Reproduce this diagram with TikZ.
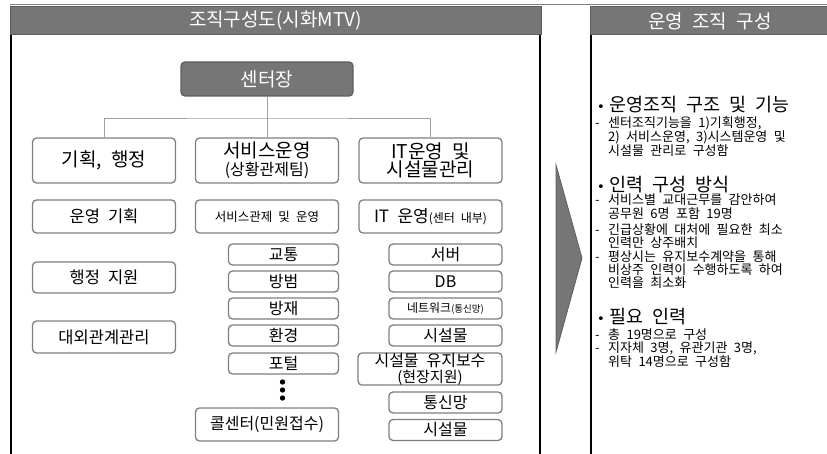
\documentclass[tikz,border=0pt]{standalone}
\usepackage{fontspec}
\setmainfont{Noto Sans CJK KR}[WordSpace=2.2]
\newfontfamily\symfont{DejaVu Sans}
\usepackage{xcolor}
\usetikzlibrary{positioning}
\definecolor{Ink}{HTML}{000000}
\definecolor{HeadFill}{HTML}{767676}
\definecolor{HeadLine}{HTML}{5E5E5E}
\definecolor{BoxLine}{HTML}{7F7F7F}
\definecolor{Link}{HTML}{A0A0A0}
\definecolor{Rule}{HTML}{808080}
\newcommand\fs[2]{\fontsize{#1}{#2}\selectfont}
\newcommand\hy{\makebox[13pt][l]{-}}
\newcommand\ind{\hspace*{13pt}}
\newcommand\bul{\makebox[12pt][l]{\symfont\fs{13}{13}•}}

\begin{document}
\begin{tikzpicture}[
  x=1pt, y=-1pt,
  panelhead/.style={draw=HeadLine, line width=1pt, fill=HeadFill, text=white, inner sep=0pt, minimum height=28pt, font=\fs{19}{22}},
  box/.style={rounded corners=4pt, draw=BoxLine, line width=1.3pt, fill=white, align=center, inner sep=0pt},
  chief/.style={box, fill=HeadFill, draw=HeadLine, text=white, minimum width=172pt, minimum height=34pt, font=\fs{19}{22}},
  unit/.style={box, minimum width=143pt, minimum height=45pt, font=\fs{19}{18}},
  task/.style={box, minimum width=143pt, minimum height=33pt, font=\fs{16.5}{16}},
  item/.style={box, minimum width=110pt, minimum height=21pt, font=\fs{16}{16}},
  link/.style={draw=Link, line width=0.8pt},
  frame/.style={draw=Ink, line width=2pt},
  headline/.style={anchor=west, inner sep=0pt, font=\fs{18.5}{20}},
  subtext/.style={anchor=north west, inner sep=0pt, align=left, font=\fs{13}{13.2}}
]
\useasboundingbox (0,0) rectangle (827,454);
\draw[Rule, line width=1.5pt] (10,4.5) -- (827,4.5);

\node[panelhead, minimum width=531pt] (lefthead) at (275.5,21) {조직구성도(시화MTV)};
\node[panelhead, minimum width=240pt] (righthead) at (710,21) {운영 조직 구성};
\draw[frame] ([xshift=1.5pt]lefthead.south west) -- ++(0,420);
\draw[frame] ([xshift=-1.5pt]lefthead.south east) -- ++(0,420);
\draw[frame] ([xshift=1pt]righthead.south west) -- ++(0,420);

\filldraw[fill=HeadFill, draw=HeadLine, line width=0.8pt] (556,165) -- (582,258) -- (556,352) -- cycle;

\node[chief] (chief) at (267,79) {센터장};
\node[unit] (plan) at (104,160.5) {기획, 행정};
\node[unit] (svc) at (267,160.5) {서비스운영\\{\fs{16}{18}(상황관제팀)}};
\node[unit] (it) at (430.5,160.5) {IT운영 및\\시설물관리};

\coordinate (bus) at (267,118);
\draw[link] (chief) -- (svc);
\draw[link] (plan.north) |- (bus) -| (it.north);

\node[task] (planwork) at (104,216.5) {운영 기획};
\node[task, font=\fs{12.5}{14}] (svcwork) at (267,216.5) {서비스관제 및 운영};
\node[task, font=\fs{17}{16}] (itwork) at (430.5,216.5) {IT 운영{\fs{12}{14}(센터 내부)}};
\node[task, minimum height=31pt] (adminwork) at (104,277.5) {행정 지원};
\node[task, minimum height=32pt] (extwork) at (104,337) {대외관계관리};

\node[item] (traffic) at (283.5,254.5) {교통};
\node[item] (crime) at (283.5,281.5) {방범};
\node[item] (disaster) at (283.5,308.5) {방재};
\node[item] (env) at (283.5,335.5) {환경};
\node[item] (portal) at (283.5,363.5) {포털};
\fill (282.5,382) circle (2.7pt);
\fill (282.5,390) circle (2.7pt);
\fill (282.5,398) circle (2.7pt);
\node[task, font=\fs{16}{16}] (callctr) at (267,424.5) {콜센터(민원접수)};

\node[item, minimum width=113pt] (server) at (445.5,254.5) {서버};
\node[item, minimum width=113pt] (db) at (445.5,281.5) {DB};
\node[item, minimum width=113pt, font=\fs{12}{14}] (network) at (445.5,308.5) {네트워크{\fs{9.5}{12}(통신망)}};
\node[item, minimum width=113pt] (facility) at (445.5,335.5) {시설물};
\node[task, minimum width=144pt, minimum height=32pt, font=\fs{16}{16}] (upkeep) at (430,369) {시설물 유지보수\\{\fs{15}{16}(현장지원)}};
\node[item, minimum width=113pt] (line) at (445.5,402.5) {통신망};
\node[item, minimum width=113pt] (facility2) at (445.5,430) {시설물};

\node[headline] (role) at (597,105) {\bul 운영조직 구조 및 기능};
\node[subtext] (rolea) at (595,116) {\hy 센터조직기능을 1)기획행정,\\\ind 2) 서비스운영, 3)시스템운영 및\\\ind 시설물 관리로 구성함};
\node[headline] (staff) at (597,185) {\bul 인력 구성 방식};
\node[subtext] (staffa) at (595,194) {\hy 서비스별 교대근무를 감안하여\\\ind 공무원 6명 포함 19명};
\node[subtext] (staffb) at (595,223.5) {\hy 긴급상황에 대처에 필요한 최소\\\ind 인력만 상주배치};
\node[subtext] (staffc) at (595,250.5) {\hy 평상시는 유지보수계약을 통해\\\ind 비상주 인력이 수행하도록 하여\\\ind 인력을 최소화};
\node[headline] (need) at (597,317) {\bul 필요 인력};
\node[subtext] (needa) at (595,328.5) {\hy 총 19명으로 구성};
\node[subtext] (needb) at (595,341.5) {\hy 지자체 3명, 유관기관 3명,\\\ind 위탁 14명으로 구성함};
\end{tikzpicture}
\end{document}
